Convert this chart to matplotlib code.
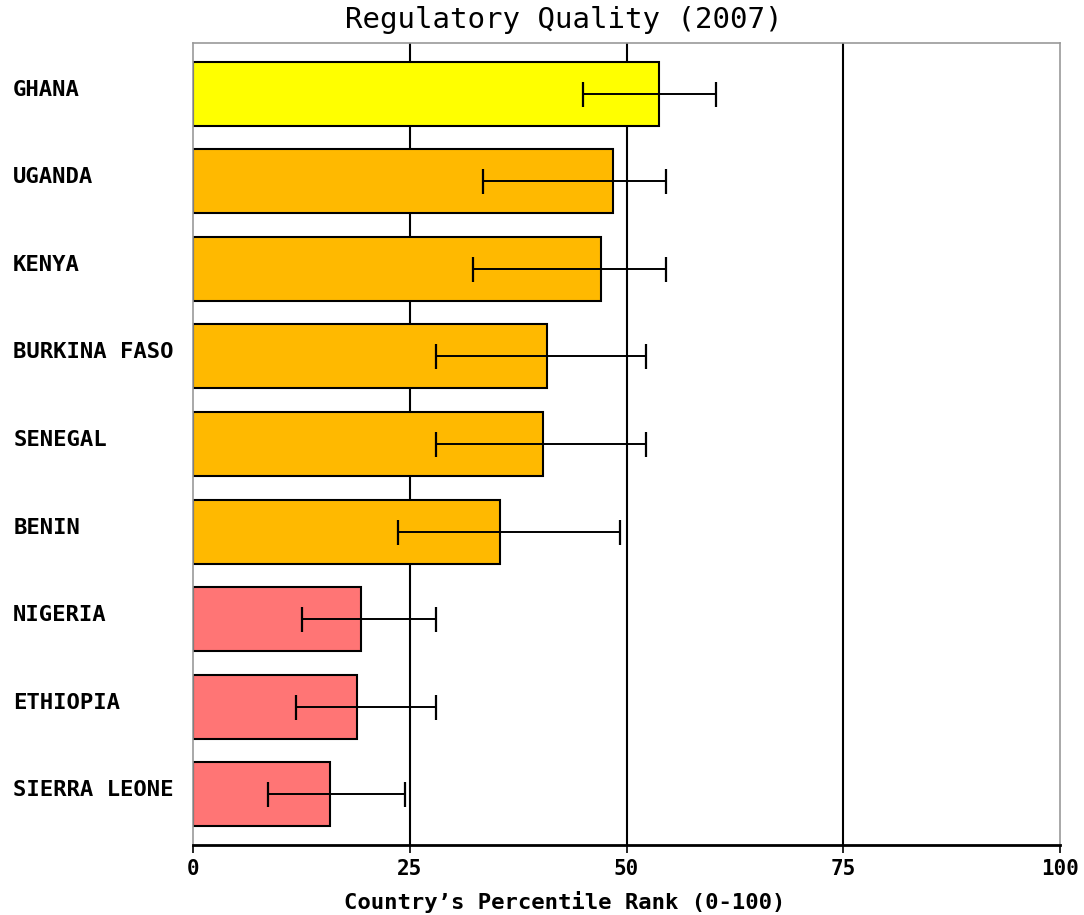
import numpy as np
import matplotlib
matplotlib.use("Agg")
import matplotlib.pyplot as plt
from matplotlib.transforms import ScaledTranslation

# data
countries = ["GHANA", "UGANDA", "KENYA", "BURKINA FASO", "SENEGAL",
             "BENIN", "NIGERIA", "ETHIOPIA", "SIERRA LEONE"]
ranks = [53.8, 48.4, 47.1, 40.8, 40.4, 35.4, 19.4, 18.9, 15.8]
err_low = [45.0, 33.4, 32.3, 28.0, 28.0, 23.6, 12.6, 11.9, 8.7]
err_high = [60.3, 54.6, 54.6, 52.2, 52.2, 49.3, 28.0, 28.0, 24.5]
bar_colors = ["#FFFF00", "#FFB900", "#FFB900", "#FFB900", "#FFB900",
              "#FFB900", "#FF7575", "#FF7575", "#FF7575"]
xticks = [0, 25, 50, 75, 100]

font = "DejaVu Sans Mono"

fig = plt.figure(figsize=(10.84, 9.15), dpi=100)
ax = fig.add_axes([193 / 1084, 1 - 845 / 915, (1060 - 193) / 1084, (845 - 43) / 915])

y = np.arange(len(countries))
ranks_a = np.array(ranks)
xerr = np.vstack([ranks_a - np.array(err_low), np.array(err_high) - ranks_a])

ax.barh(y, ranks, height=0.73, color=bar_colors, edgecolor="black",
        linewidth=1.5, zorder=2)
ax.errorbar(ranks, y, xerr=xerr, fmt="none", ecolor="black", elinewidth=1.4,
            capsize=9, capthick=1.6, zorder=3)

ax.set_xlim(0, 100)
ax.set_ylim(len(countries) - 1 + 0.58, -0.58)

# vertical grid at 25/50/75, behind the bars
for gx in [25, 50, 75]:
    ax.axvline(gx, color="black", linewidth=1.5, zorder=1)

ax.set_xticks(xticks)
ax.set_xticklabels([str(t) for t in xticks], fontfamily=font,
                   fontweight="bold", fontsize=15)
ax.tick_params(axis="x", length=6, width=1.2, color="black", pad=4)

ax.set_yticks(y)
ax.set_yticklabels(countries, fontfamily=font, fontweight="bold",
                   fontsize=16, ha="left")
ax.tick_params(axis="y", length=0, pad=129.5)
# country names sit a little above the bar centres
shift = ScaledTranslation(0, 6 / 100, fig.dpi_scale_trans)
for lbl in ax.get_yticklabels():
    lbl.set_transform(lbl.get_transform() + shift)

for side in ["top", "left", "right"]:
    ax.spines[side].set_color("#999999")
    ax.spines[side].set_linewidth(1.2)
ax.spines["bottom"].set_color("black")
ax.spines["bottom"].set_linewidth(2)

ax.set_xlabel("Country\u2019s Percentile Rank (0-100)", fontfamily=font,
              fontweight="bold", fontsize=16, labelpad=9,
              x=(565 - 193) / (1060 - 193))

fig.text(564 / 1084, 1 - 20 / 915, "Regulatory Quality (2007)",
         fontfamily=font, fontsize=21, ha="center", va="center")

fig.savefig("out.png", dpi=100)
